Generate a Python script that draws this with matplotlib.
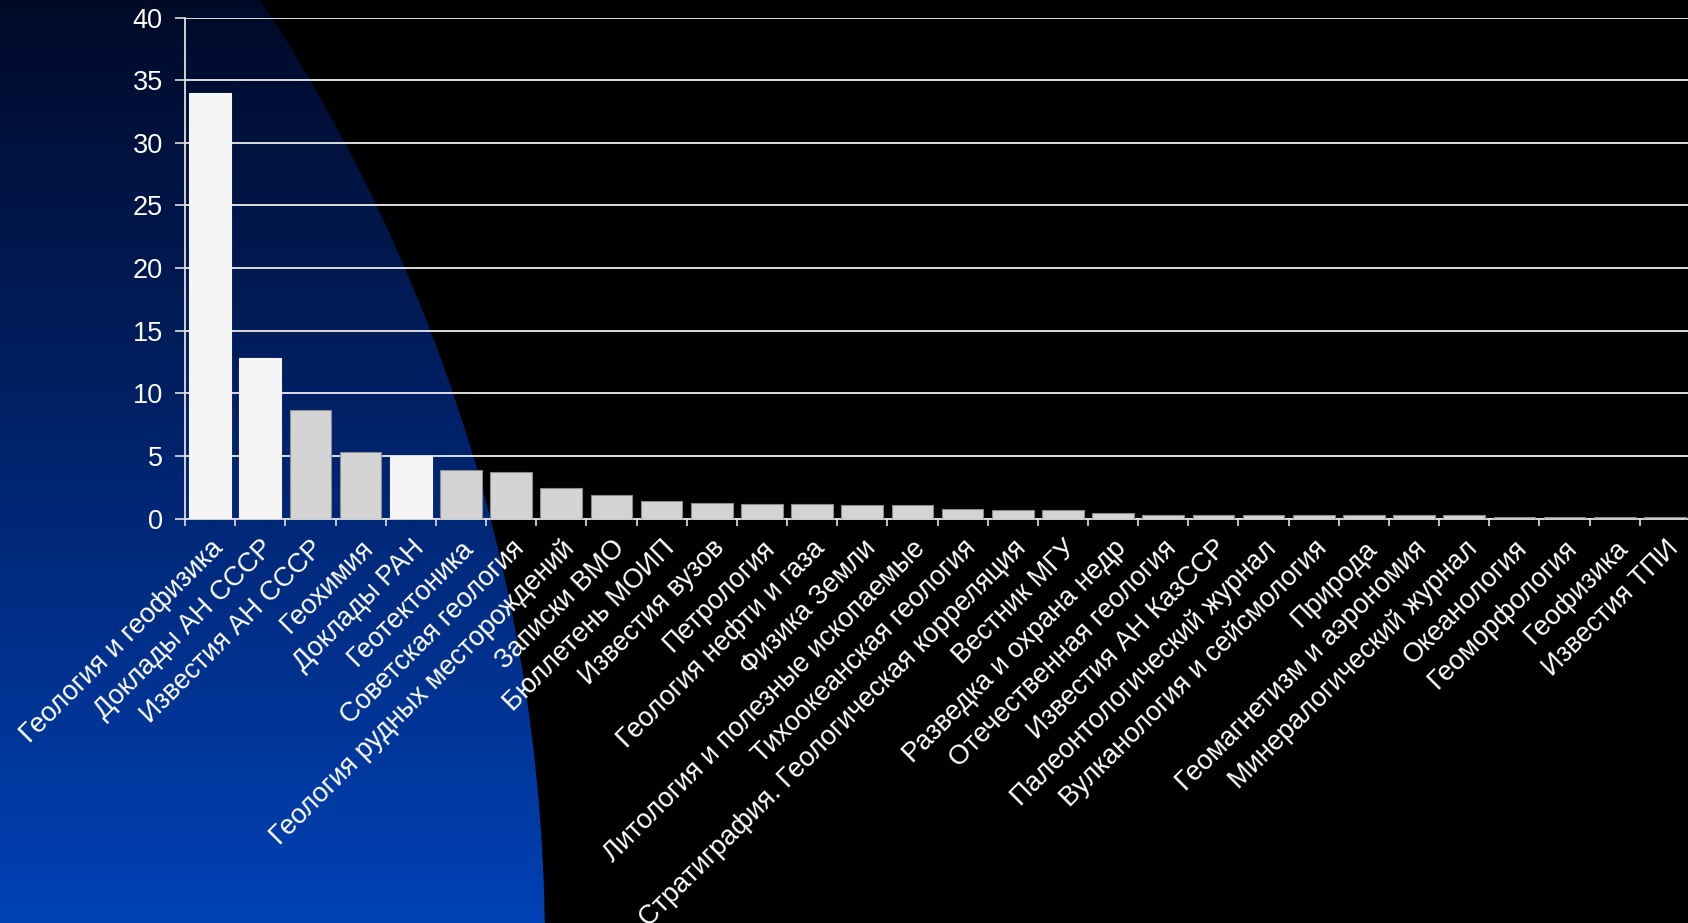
import matplotlib
matplotlib.use("Agg")
import matplotlib.pyplot as plt
import numpy as np
from matplotlib.patches import Circle
from matplotlib.colors import LinearSegmentedColormap

# Journals and share of publications (%)
journals = [
    'Геология и геофизика', 'Доклады АН СССР', 'Известия АН СССР', 'Геохимия',
    'Доклады РАН', 'Геотектоника', 'Советская геология',
    'Геология рудных месторождений', 'Записки ВМО', 'Бюллетень МОИП',
    'Известия вузов', 'Петрология', 'Геология нефти и газа', 'Физика Земли',
    'Литология и полезные ископаемые', 'Тихоокеанская геология',
    'Стратиграфия. Геологическая корреляция', 'Вестник МГУ',
    'Разведка и охрана недр', 'Отечественная геология', 'Известия АН КазССР',
    'Палеонтологический журнал', 'Вулканология и сейсмология', 'Природа',
    'Геомагнетизм и аэрономия', 'Минералогический журнал', 'Океанология',
    'Геоморфология', 'Геофизика', 'Известия ТПИ',
]
values = [34, 12.8, 8.7, 5.3, 5.0, 3.9, 3.7, 2.4, 1.9, 1.4,
          1.25, 1.15, 1.15, 1.05, 1.05, 0.73, 0.65, 0.65, 0.45, 0.32,
          0.32, 0.32, 0.27, 0.27, 0.27, 0.27, 0.13, 0.13, 0.13, 0.13]
highlighted = ['Геология и геофизика', 'Доклады АН СССР', 'Доклады РАН']
y_ticks = [0, 5, 10, 15, 20, 25, 30, 35, 40]

W, H = 1688, 923
plt.rcParams['font.family'] = ['Liberation Sans', 'DejaVu Sans']

fig = plt.figure(figsize=(W / 100, H / 100), dpi=100, facecolor='black')

# background: blue gradient disc on the left
bg = fig.add_axes([0, 0, 1, 1])
bg.axis('off')
cmap = LinearSegmentedColormap.from_list('bgblue', ['#000a28', '#00246e', '#0042b6'])
grad = np.linspace(0, 1, 256).reshape(-1, 1)
im = bg.imshow(grad, extent=[0, W, H, 0], cmap=cmap, aspect='auto')
disc = Circle((-1175, 948), 1720, transform=bg.transData, facecolor='none', edgecolor='none')
bg.add_patch(disc)
im.set_clip_path(disc)
bg.set_xlim(0, W)
bg.set_ylim(H, 0)

ax = fig.add_axes([185 / W, 0.4382, (1690 - 185) / W, 0.5428])
ax.set_facecolor('none')

x = np.arange(len(journals))
colors = ['#f5f5f5' if j in highlighted else '#d4d4d4' for j in journals]
edges = ['#f5f5f5' if j in highlighted else '#8c8c8c' for j in journals]
ax.bar(x, values, width=0.83, color=colors, edgecolor=edges, linewidth=0.8, zorder=3)

ax.set_xlim(-0.5, len(journals) - 0.5)
ax.set_ylim(0, 40)
ax.set_yticks(y_ticks)
ax.yaxis.grid(True, color='#ececec', linewidth=1.3, zorder=0)
ax.set_axisbelow(True)

ax.set_xticks(x)
ax.set_xticklabels(journals, rotation=45, ha='right', va='top',
                   rotation_mode='anchor', fontsize=19.5, color='white')
ax.set_xticks(np.arange(-0.5, len(journals)), minor=True)
ax.tick_params(axis='x', which='major', length=0, pad=12)
ax.tick_params(axis='x', which='minor', length=5, width=1.2, color='#e0e0e0')
ax.tick_params(axis='y', length=7, width=1.2, color='#e0e0e0', labelsize=19.5,
               labelcolor='white', pad=9)

for side in ['top', 'right']:
    ax.spines[side].set_visible(False)
for side in ['left', 'bottom']:
    ax.spines[side].set_color('#e0e0e0')
    ax.spines[side].set_linewidth(1.3)

fig.savefig('out.png', dpi=100, facecolor='black')
